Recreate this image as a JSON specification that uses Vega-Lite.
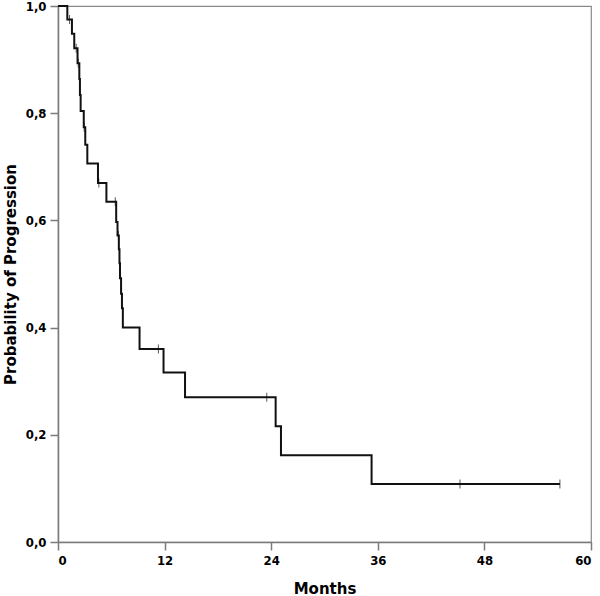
{
  "$schema": "https://vega.github.io/schema/vega-lite/v6.json",
  "width": 533,
  "height": 536,
  "autosize": {"type": "none"},
  "padding": {"left": 58, "top": 6, "right": 9, "bottom": 54},
  "background": "white",
  "config": {
    "view": {"stroke": "#8a8a8a", "strokeWidth": 1.2},
    "axis": {
      "domainColor": "#7a7a7a",
      "domainWidth": 1.5,
      "tickColor": "#7a7a7a",
      "tickWidth": 1.5,
      "tickSize": 8,
      "grid": false,
      "labelFont": "DejaVu Sans Condensed, DejaVu Sans",
      "labelFontWeight": "bold",
      "labelFontSize": 13,
      "labelColor": "#000000",
      "titleFont": "DejaVu Sans",
      "titleFontWeight": "bold",
      "titleFontSize": 15,
      "titleColor": "#000000"
    }
  },
  "datasets": {
    "curve": [
      {"time": 0, "surv": 1.0},
      {"time": 1.05, "surv": 0.975},
      {"time": 1.57, "surv": 0.948},
      {"time": 1.83, "surv": 0.921},
      {"time": 2.2, "surv": 0.893},
      {"time": 2.4, "surv": 0.864},
      {"time": 2.47, "surv": 0.834},
      {"time": 2.55, "surv": 0.804},
      {"time": 2.9, "surv": 0.774},
      {"time": 3.07, "surv": 0.741},
      {"time": 3.3, "surv": 0.706},
      {"time": 4.5, "surv": 0.670},
      {"time": 5.45, "surv": 0.635},
      {"time": 6.55, "surv": 0.597},
      {"time": 6.7, "surv": 0.572},
      {"time": 6.85, "surv": 0.546},
      {"time": 6.92, "surv": 0.520},
      {"time": 6.98, "surv": 0.492},
      {"time": 7.1, "surv": 0.463},
      {"time": 7.2, "surv": 0.436},
      {"time": 7.3, "surv": 0.400},
      {"time": 9.18, "surv": 0.360},
      {"time": 11.88, "surv": 0.316},
      {"time": 14.3, "surv": 0.270},
      {"time": 24.5, "surv": 0.216},
      {"time": 25.1, "surv": 0.162},
      {"time": 35.3, "surv": 0.108},
      {"time": 56.5, "surv": 0.108}
    ],
    "censored": [
      {"time": 1.3, "surv": 0.975},
      {"time": 2.05, "surv": 0.921},
      {"time": 2.28, "surv": 0.893},
      {"time": 2.95, "surv": 0.774},
      {"time": 4.6, "surv": 0.670},
      {"time": 6.45, "surv": 0.635},
      {"time": 6.8, "surv": 0.572},
      {"time": 11.3, "surv": 0.360},
      {"time": 23.5, "surv": 0.270},
      {"time": 45.25, "surv": 0.108},
      {"time": 56.5, "surv": 0.108}
    ]
  },
  "layer": [
    {
      "data": {"name": "curve"},
      "mark": {"type": "line", "interpolate": "step-after", "color": "#111111", "strokeWidth": 2},
      "encoding": {
        "x": {
          "field": "time",
          "type": "quantitative",
          "scale": {"domain": [0, 60], "nice": false, "zero": false},
          "axis": {
            "values": [0, 12, 24, 36, 48, 60],
            "title": "Months",
            "labelPadding": 4,
            "titleX": 266.5,
            "titleY": 46,
            "titleBaseline": "middle",
            "titleAlign": "center"
          }
        },
        "y": {
          "field": "surv",
          "type": "quantitative",
          "scale": {"domain": [0, 1], "nice": false},
          "axis": {
            "values": [0, 0.2, 0.4, 0.6, 0.8, 1.0],
            "labelExpr": "replace(format(datum.value, '.1f'), '.', ',')",
            "title": "Probability of Progression",
            "labelPadding": 4,
            "titleX": -48,
            "titleY": 268,
            "titleAngle": -90,
            "titleBaseline": "middle",
            "titleAlign": "center"
          }
        }
      }
    },
    {
      "data": {"name": "censored"},
      "mark": {"type": "tick", "orient": "vertical", "color": "#111111", "thickness": 1, "size": 9},
      "encoding": {
        "x": {"field": "time", "type": "quantitative"},
        "y": {"field": "surv", "type": "quantitative"}
      }
    }
  ]
}
